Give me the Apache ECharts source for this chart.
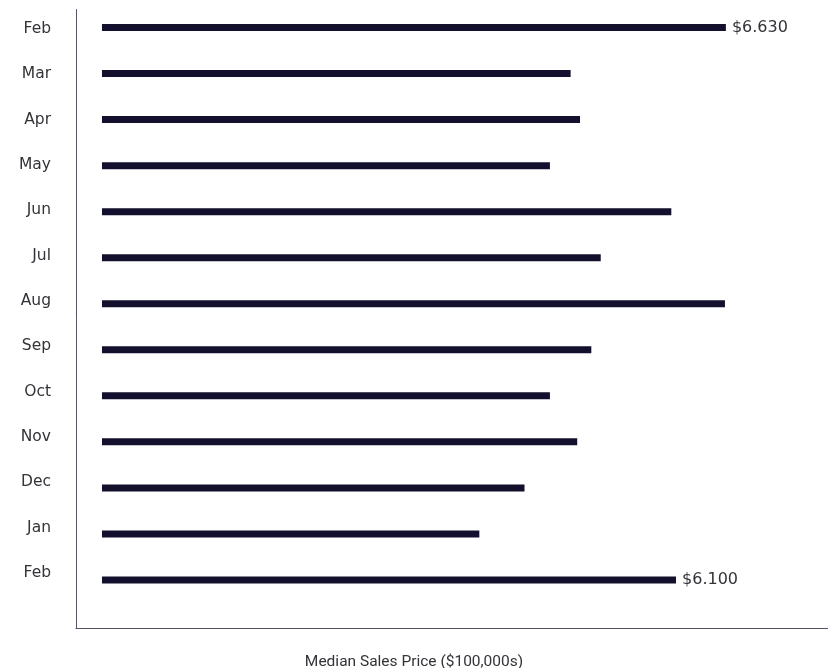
<!DOCTYPE html>
<html>
<head>
<meta charset="utf-8">
<script src="https://cdn.jsdelivr.net/npm/echarts@6/dist/echarts.min.js"></script>
<style>
html,body{margin:0;padding:0;background:#fff;}
#chart{width:828px;height:668px;}
</style>
</head>
<body>
<div id="chart"></div>
<script>
const categories = ['Feb','Mar','Apr','May','Jun','Jul','Aug','Sep','Oct','Nov','Dec','Jan','Feb'];
const values = [6.63, 4.98, 5.08, 4.76, 6.05, 5.30, 6.62, 5.20, 4.76, 5.05, 4.49, 4.01, 6.10];
const labelledIndices = [0, 12];
const axisTitle = 'Median Sales Price ($100,000s)';

const FONT = '"DejaVu Sans"';
const TITLE_FONT = 'Roboto';
const TEXT = '#333338';
const LINE = '#55536a';
const BAR = '#13102d';

const barData = values.map((v, i) => ({
  value: v,
  label: { show: labelledIndices.includes(i) }
}));

const chart = echarts.init(document.getElementById('chart'), null, { renderer: 'canvas' });
chart.setOption({
  animation: false,
  backgroundColor: '#ffffff',
  textStyle: { fontFamily: FONT },
  title: {
    text: axisTitle,
    left: 'center',
    top: 649,
    textStyle: { fontFamily: TITLE_FONT, fontSize: 15.5, fontWeight: 'normal', color: TEXT }
  },
  grid: [
    { left: 76, width: 752, top: 4.5, height: 598.5 },
    { left: 76, width: 752, top: 6.35, height: 589.3 },
    { left: 76, width: 752, top: 9.5, bottom: 40 }
  ],
  xAxis: [
    { gridIndex: 0, type: 'value', min: -0.276, max: 7.715, show: false },
    { gridIndex: 1, type: 'value', min: 0, max: 1, show: false },
    { gridIndex: 2, type: 'value', min: 0, max: 1,
      axisLine: { show: true, onZero: false, lineStyle: { color: LINE, width: 1 } },
      axisTick: { show: false }, axisLabel: { show: false }, splitLine: { show: false } }
  ],
  yAxis: [
    { gridIndex: 0, type: 'category', data: categories, inverse: true, show: false },
    { gridIndex: 1, type: 'category', data: categories, inverse: true,
      axisLine: { show: false }, axisTick: { show: false }, splitLine: { show: false },
      axisLabel: { margin: 25, fontFamily: FONT, fontSize: 15.5, color: TEXT } },
    { gridIndex: 2, type: 'value', min: 0, max: 1,
      axisLine: { show: true, onZero: false, lineStyle: { color: LINE, width: 1 } },
      axisTick: { show: false }, axisLabel: { show: false }, splitLine: { show: false } }
  ],
  series: [{
    type: 'bar',
    xAxisIndex: 0,
    yAxisIndex: 0,
    data: barData,
    barWidth: 7,
    itemStyle: { color: BAR },
    label: {
      position: 'right',
      distance: 6,
      fontFamily: FONT,
      fontSize: 16,
      color: TEXT,
      formatter: p => '$' + p.value.toFixed(3)
    }
  }]
});
</script>
</body>
</html>
